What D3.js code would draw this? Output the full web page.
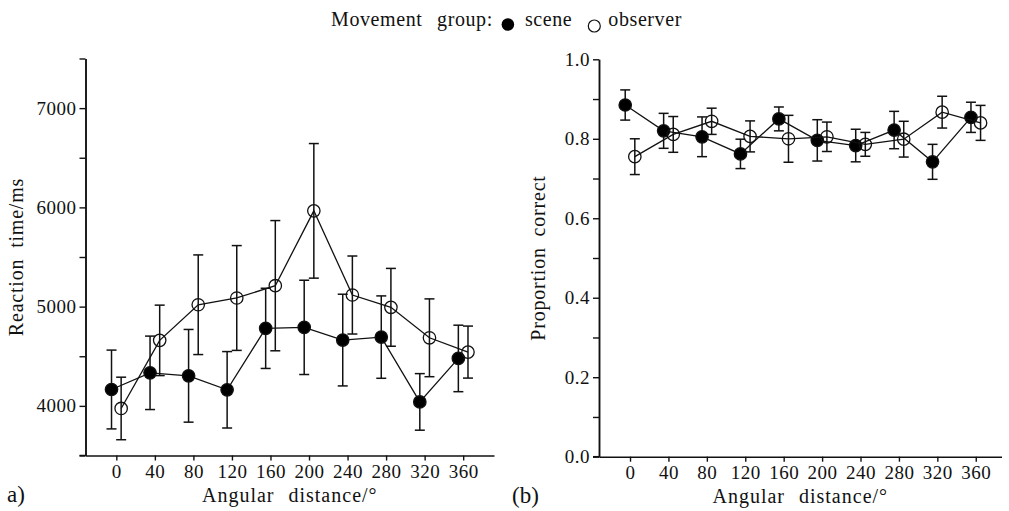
<!DOCTYPE html>
<html><head><meta charset="utf-8">
<script src="https://cdn.jsdelivr.net/npm/d3@7"></script>
<style>
body{margin:0;background:#fff}
svg text{font-family:"Liberation Serif","Times New Roman",serif;fill:#111}
</style>
</head><body>
<svg id="c" width="1009" height="511"></svg>
<script>
// ---- data ----
const angles = [0, 40, 80, 120, 160, 200, 240, 280, 320, 360];
const xTickLabels = ["0","40","80","120","160","200","240","280","320","360"];
const rtScene    = [4165, 4333, 4303, 4162, 4781, 4791, 4663, 4693, 4040, 4478];
const rtSceneErr = [397, 370, 467, 385, 404, 475, 462, 415, 285, 335];
const rtObs      = [3974, 4660, 5019, 5087, 5211, 5965, 5117, 4993, 4686, 4542];
const rtObsErr   = [315, 355, 502, 528, 656, 678, 393, 392, 392, 262];
const pcScene    = [0.885, 0.820, 0.805, 0.762, 0.850, 0.796, 0.783, 0.822, 0.742, 0.854];
const pcSceneErr = [0.038, 0.044, 0.050, 0.037, 0.030, 0.052, 0.041, 0.047, 0.044, 0.038];
const pcObs      = [0.755, 0.811, 0.844, 0.806, 0.800, 0.805, 0.786, 0.799, 0.867, 0.840];
const pcObsErr   = [0.045, 0.045, 0.033, 0.039, 0.059, 0.037, 0.030, 0.045, 0.040, 0.044];
const rtMajorTicks = [4000, 5000, 6000, 7000];
const rtMinorTicks = [3500, 4500, 5500, 6500, 7500];
const pcMajorTicks = [0.0, 0.2, 0.4, 0.6, 0.8, 1.0];
const pcMinorTicks = [0.1, 0.3, 0.5, 0.7, 0.9];
const groupOffset = {scene: -5, observer: 5};

const svg = d3.select("#c");

function panel(cfg){
  const g = svg.append("g");
  const x = d3.scaleLinear().domain(cfg.xDomain).range([cfg.left, cfg.right]);
  const y = d3.scaleLinear().domain(cfg.yDomain).range([cfg.bottom, cfg.top]);

  const xa = g.append("g").attr("transform", `translate(0,${cfg.bottom})`)
    .call(d3.axisBottom(x).tickValues(angles).tickFormat((d,i)=>xTickLabels[i]).tickSizeInner(5).tickSizeOuter(0).tickPadding(4));
  const ya = g.append("g").attr("transform", `translate(${cfg.left},0)`)
    .call(d3.axisLeft(y).tickValues(cfg.major).tickFormat(cfg.fmt).tickSizeInner(6).tickSizeOuter(0).tickPadding(3));
  const ym = g.append("g").attr("transform", `translate(${cfg.left},0)`)
    .call(d3.axisLeft(y).tickValues(cfg.minor).tickFormat("").tickSizeInner(6).tickSizeOuter(0));
  [xa, ya, ym].forEach(a=>{
    a.selectAll("path.domain").attr("stroke","#111").attr("stroke-width",1.5);
    a.selectAll("line").attr("stroke","#111").attr("stroke-width",1.4);
    a.selectAll("text").attr("font-size",19).attr("letter-spacing","0.5px").attr("fill","#111");
  });
  g.append("line").attr("x1",cfg.left-6).attr("x2",cfg.left).attr("y1",cfg.bottom).attr("y2",cfg.bottom)
    .attr("stroke","#111").attr("stroke-width",1.5);

  g.append("text").attr("x",(cfg.left+cfg.right)/2).attr("y",cfg.bottom+46)
    .attr("text-anchor","middle").attr("font-size",20).attr("letter-spacing","1px").attr("word-spacing","8px")
    .text("Angular distance/°");
  g.append("text").attr("transform",`translate(${cfg.ytX},${(cfg.top+cfg.bottom)/2}) rotate(-90)`)
    .attr("text-anchor","middle").attr("dy","0.35em").attr("font-size",20).attr("letter-spacing","0.8px").attr("word-spacing","5px")
    .text(cfg.yTitle);
  g.append("text").attr("x",cfg.labX).attr("y",cfg.bottom+46).attr("font-size",23).text(cfg.label);

  const series = [
    {key:"scene", vals:cfg.scene, err:cfg.sceneErr, fill:"#000"},
    {key:"observer", vals:cfg.obs, err:cfg.obsErr, fill:"none"}
  ];
  const line = d3.line().x(d=>x(d[0])).y(d=>y(d[1]));
  series.forEach(s=>{
    const pts = angles.map((a,i)=>[a+groupOffset[s.key], s.vals[i], s.err[i]]);
    g.append("path").datum(pts).attr("d",line).attr("fill","none").attr("stroke","#111").attr("stroke-width",1.3);
    const eb = g.append("g").attr("stroke","#111").attr("stroke-width",1.5);
    pts.forEach(p=>{
      const cx = x(p[0]), y1 = y(p[1]+p[2]), y0 = y(p[1]-p[2]);
      eb.append("line").attr("x1",cx).attr("x2",cx).attr("y1",y1).attr("y2",y0);
      eb.append("line").attr("x1",cx-5).attr("x2",cx+5).attr("y1",y1).attr("y2",y1);
      eb.append("line").attr("x1",cx-5).attr("x2",cx+5).attr("y1",y0).attr("y2",y0);
    });
    g.append("g").selectAll("circle").data(pts).join("circle")
      .attr("cx",d=>x(d[0])).attr("cy",d=>y(d[1])).attr("r",6.2)
      .attr("fill",s.fill).attr("stroke","#111").attr("stroke-width",1.3);
  });
}

panel({left:85.5, right:494, top:58.5, bottom:455.5, xDomain:[-32,392], yDomain:[3500,7500],
  major:rtMajorTicks, minor:rtMinorTicks, fmt:d3.format("d"), yTitle:"Reaction time/ms", ytX:16,
  label:"a)", labX:7, scene:rtScene, sceneErr:rtSceneErr, obs:rtObs, obsErr:rtObsErr});
panel({left:599, right:1001.5, top:59.3, bottom:456.7, xDomain:[-32.3,386.8], yDomain:[0,1],
  major:pcMajorTicks, minor:pcMinorTicks, fmt:d3.format(".1f"), yTitle:"Proportion correct", ytX:538,
  label:"(b)", labX:512, scene:pcScene, sceneErr:pcSceneErr, obs:pcObs, obsErr:pcObsErr});

// legend
const lg = svg.append("g");
const base = 26, fs = 20;
const lt = lg.append("text").attr("x",331).attr("y",base).attr("font-size",fs).attr("letter-spacing","0.6px").attr("word-spacing","9px").text("Movement group:");
const e1 = 331 + lt.node().getComputedTextLength();
lg.append("circle").attr("cx",e1+15).attr("cy",24.5).attr("r",6.3).attr("fill","#000");
const t2 = lg.append("text").attr("x",e1+32).attr("y",base).attr("font-size",fs).attr("letter-spacing","0.6px").text("scene");
const e2 = e1+32 + t2.node().getComputedTextLength();
lg.append("circle").attr("cx",e2+22).attr("cy",26).attr("r",6).attr("fill","none").attr("stroke","#111").attr("stroke-width",1.2);
lg.append("text").attr("x",e2+36).attr("y",base).attr("font-size",fs).attr("letter-spacing","0.6px").text("observer");
</script>
</body></html>
